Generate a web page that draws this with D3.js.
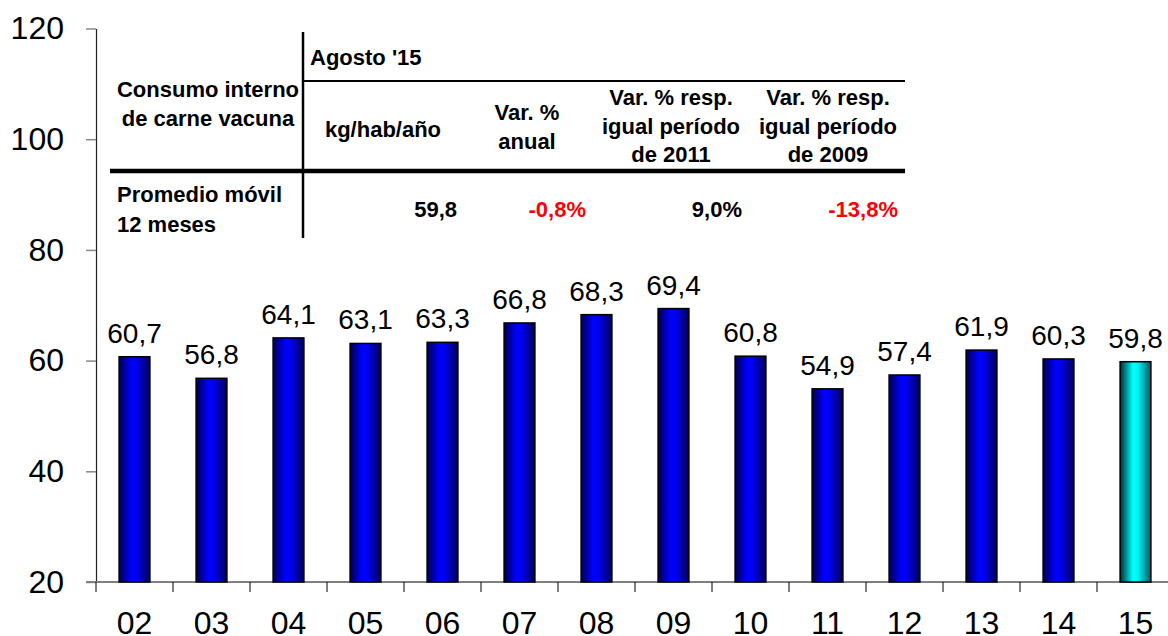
<!DOCTYPE html>
<html>
<head>
<meta charset="utf-8">
<script src="https://cdn.jsdelivr.net/npm/d3@7"></script>
<style>
  body { margin: 0; background: #fff; }
  svg { display: block; font-family: "Liberation Sans", Arial, sans-serif; }
</style>
</head>
<body>
<script>
// chart size
var w = 1168;
var h = 636;

// data
var years = ["02", "03", "04", "05", "06", "07", "08", "09", "10", "11", "12", "13", "14", "15"];
var consumo = [60.7, 56.8, 64.1, 63.1, 63.3, 66.8, 68.3, 69.4, 60.8, 54.9, 57.4, 61.9, 60.3, 59.8];
var yTicks = [20, 40, 60, 80, 100, 120];

// table inside the plot
var tableTitle = "Agosto '15";
var rowHeader = ["Consumo interno", "de carne vacuna"];
var colHeaders = [["kg/hab/año"], ["Var. %", "anual"], ["Var. % resp.", "igual período", "de 2011"], ["Var. % resp.", "igual período", "de 2009"]];
var rowLabel = ["Promedio móvil", "12 meses"];
var rowValues = ["59,8", "-0,8%", "9,0%", "-13,8%"];
var rowColors = ["#000", "#ff0000", "#000", "#ff0000"];

var fmt = function(v) { return d3.format(".1f")(v).replace(".", ","); };

var svg = d3.select("body")
    .append("svg")
    .attr("width", w)
    .attr("height", h);

// gradients for the bars
var defs = svg.append("defs");
function grad(id, stops) {
    var g = defs.append("linearGradient").attr("id", id)
        .attr("x1", "0%").attr("x2", "100%").attr("y1", "0%").attr("y2", "0%");
    stops.forEach(function(s) {
        g.append("stop").attr("offset", s[0]).attr("stop-color", s[1]);
    });
}
grad("gBlue", [["0%", "#00004a"], ["40%", "#0000ff"], ["55%", "#0000f5"], ["100%", "#00005a"]]);
grad("gCyan", [["0%", "#002a38"], ["42%", "#00ffff"], ["58%", "#00f2f2"], ["100%", "#005866"]]);

// scales
var x = d3.scaleBand()
    .domain(years)
    .range([96, 96 + 77 * years.length])
    .paddingInner(0.6)
    .paddingOuter(0.3);

var y = d3.scaleLinear()
    .domain([20, 120])
    .range([582, 28.5]);

// y axis
var yAxis = svg.append("g")
    .attr("transform", "translate(96,0)")
    .call(d3.axisLeft(y).tickValues(yTicks).tickSize(10).tickPadding(22).tickSizeOuter(0));
yAxis.select(".domain").attr("stroke", "#222").attr("stroke-width", 1.2);
yAxis.selectAll(".tick line").attr("stroke", "#888").attr("stroke-width", 1.5);
yAxis.selectAll(".tick text")
    .attr("font-size", 32)
    .attr("fill", "#000")
    .style("font-family", "Liberation Sans, Arial, sans-serif");

// x axis line and labels
var xAxis = svg.append("g")
    .attr("transform", "translate(0,582)")
    .call(d3.axisBottom(x).tickSize(0).tickPadding(29).tickSizeOuter(0));
xAxis.select(".domain").remove();
xAxis.selectAll(".tick text")
    .attr("font-size", 32)
    .attr("fill", "#000")
    .style("font-family", "Liberation Sans, Arial, sans-serif");

svg.append("line")
    .attr("x1", 86).attr("x2", w)
    .attr("y1", y(20)).attr("y2", y(20))
    .attr("stroke", "#808080")
    .attr("stroke-width", 2);

// boundary ticks between categories
var bounds = years.map(function(d) { return x(d) - x.step() * 0.3; });
svg.selectAll(".xtick")
    .data(bounds)
    .enter()
    .append("line")
    .attr("class", "xtick")
    .attr("x1", function(d) { return d; })
    .attr("x2", function(d) { return d; })
    .attr("y1", y(20))
    .attr("y2", y(20) + 10)
    .attr("stroke", "#000")
    .attr("stroke-width", 1);

// bars
svg.selectAll(".bar")
    .data(consumo)
    .enter()
    .append("rect")
    .attr("class", "bar")
    .attr("x", function(d, i) { return x(years[i]); })
    .attr("y", function(d) { return y(d); })
    .attr("width", x.bandwidth())
    .attr("height", function(d) { return y(20) - y(d); })
    .attr("fill", function(d, i) { return i === consumo.length - 1 ? "url(#gCyan)" : "url(#gBlue)"; })
    .attr("stroke", "#000")
    .attr("stroke-width", 1.5);

// value labels
svg.selectAll(".val")
    .data(consumo)
    .enter()
    .append("text")
    .attr("class", "val")
    .attr("x", function(d, i) { return x(years[i]) + x.bandwidth() / 2; })
    .attr("y", function(d) { return y(d) - 14; })
    .attr("text-anchor", "middle")
    .attr("font-size", 28)
    .text(function(d) { return fmt(d); });

// table
var t = svg.append("g").attr("font-weight", "bold").attr("font-size", 22);

t.append("line").attr("x1", 303).attr("x2", 303).attr("y1", 32).attr("y2", 238)
    .attr("stroke", "#000").attr("stroke-width", 2.5);
t.append("line").attr("x1", 303).attr("x2", 905).attr("y1", 81).attr("y2", 81)
    .attr("stroke", "#000").attr("stroke-width", 2);
t.append("line").attr("x1", 110).attr("x2", 905).attr("y1", 171).attr("y2", 171)
    .attr("stroke", "#000").attr("stroke-width", 4.5);

t.append("text").attr("x", 310).attr("y", 65).text(tableTitle);

t.selectAll(".rh")
    .data(rowHeader)
    .enter()
    .append("text")
    .attr("x", 208)
    .attr("y", function(d, i) { return 97 + i * 28.5; })
    .attr("text-anchor", "middle")
    .text(function(d) { return d; });

var colCenters = [383, 527, 671, 828];
var colRight = [457, 586, 742, 898];
colHeaders.forEach(function(lines, c) {
    var first = lines.length === 1 ? 137 : (lines.length === 2 ? 120 : 105);
    lines.forEach(function(s, k) {
        t.append("text")
            .attr("x", colCenters[c])
            .attr("y", first + k * 28.5)
            .attr("text-anchor", "middle")
            .text(s);
    });
});

t.selectAll(".rl")
    .data(rowLabel)
    .enter()
    .append("text")
    .attr("x", 117)
    .attr("y", function(d, i) { return 202 + i * 29.5; })
    .text(function(d) { return d; });

t.selectAll(".rv")
    .data(rowValues)
    .enter()
    .append("text")
    .attr("x", function(d, i) { return colRight[i]; })
    .attr("y", 217)
    .attr("text-anchor", "end")
    .attr("fill", function(d, i) { return rowColors[i]; })
    .text(function(d) { return d; });
</script>
</body>
</html>
